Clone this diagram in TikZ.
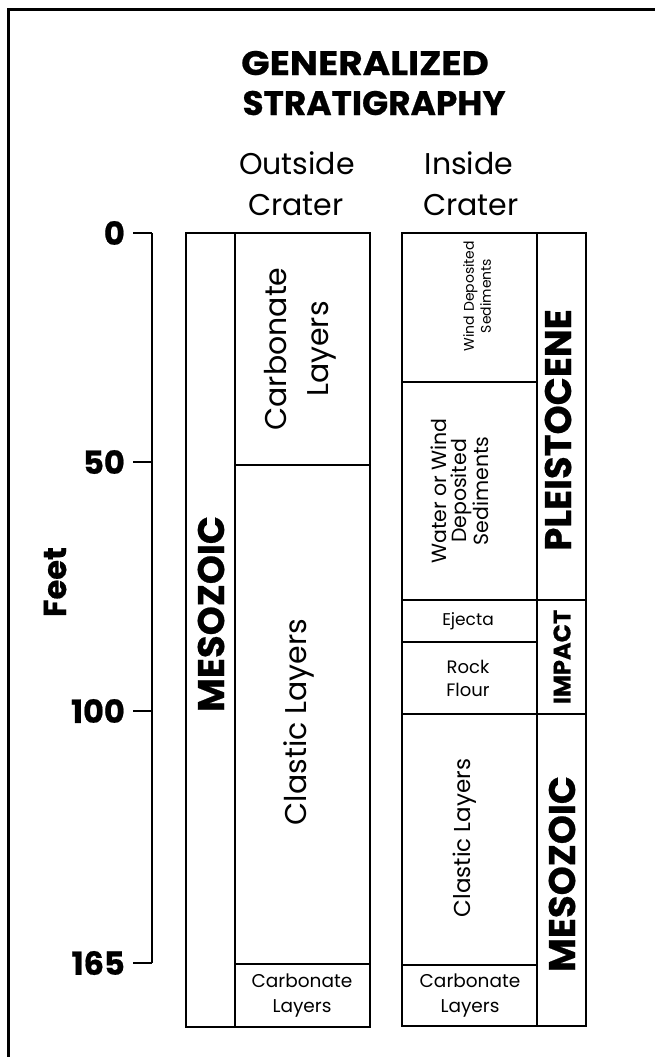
\documentclass[tikz,border=0pt]{standalone}
\usepackage{fontspec}
\setmainfont{Poppins}
\newcommand{\fsz}[2]{\fontsize{#1}{#2}\selectfont}
\newcommand{\heavy}{\bfseries\addfontfeature{FakeBold=0.6}}
\begin{document}
\begin{tikzpicture}[x=1pt,y=-1pt,
    frame/.style={line width=3pt},
    bed/.style={line width=2.6pt},
    axis/.style={line width=1.8pt},
    depth/.style={anchor=east,inner sep=0pt,font=\heavy\fsz{32}{32}},
    head/.style={anchor=base,inner sep=0pt,font=\fsz{30}{30}},
    ttl/.style={anchor=base,inner sep=0pt,font=\heavy\fsz{34}{34}},
    era/.style={rotate=90,inner sep=0pt,font=\heavy\fsz{37}{37}},
    unit/.style={rotate=90,inner sep=0pt,align=center}]

    \useasboundingbox (0,0) rectangle (654,1057);

    % outer frame, open to the right and bottom
    \draw[frame] (660,10) -- (8,10) -- (8,1062);

    % title and column heads
    \node[ttl] (title1) at (365,75) {\scalebox{1.1}[1]{GENERALIZED}};
    \node[ttl] (title2) at (374,115) {\scalebox{1.01}[1]{STRATIGRAPHY}};
    \node[head] (outA) at (297,174) {Outside};
    \node[head] (outB) at (296,215) {Crater};
    \node[head] (inA) at (469,174) {Inside};
    \node[head] (inB) at (471,215) {Crater};

    % depth scale
    \draw[axis] (152,233) -- (152,963);
    \foreach \y/\d in {233/0,462/50,711/100,963/165} {
        \draw[axis] (133,\y) -- (152,\y);
        \node[depth] (d\d) at (125,\y) {\d};
    }
    \node[rotate=90,inner sep=0pt,font=\heavy\fsz{32}{32}] (feet) at (55,582) {Feet};

    % outside crater column
    \draw[bed] (186,233) rectangle (370,1027);
    \draw[bed] (235,233) -- (235,1027);
    \foreach \y in {465,964}
        \draw[bed] (235,\y) -- (370,\y);

    \node[era] (mesoOut) at (211,614) {MESOZOIC};
    \node[unit,font=\fsz{30}{42}] (carbOut) at (300,349) {Carbonate\\Layers};
    \node[unit,font=\fsz{30}{36}] (clasOut) at (299,722) {Clastic Layers};
    \node[align=center,inner sep=0pt,font=\fsz{18.5}{25}] (carbOutB) at (302,996) {Carbonate\\Layers};

    % inside crater column
    \draw[bed] (402,233) rectangle (586,1026);
    \draw[bed] (537,233) -- (537,1026);
    \foreach \y in {382,642,965}
        \draw[bed] (402,\y) -- (537,\y);
    \foreach \y in {600,714}
        \draw[bed] (402,\y) -- (586,\y);

    \node[unit,font=\fsz{14}{17}] (wind) at (477,296) {Wind Deposited\\Sediments};
    \node[unit,font=\fsz{20.5}{20}] (water) at (460,491) {Water or Wind\\Deposited\\Sediments};
    \node[inner sep=0pt,font=\fsz{17}{20}] (ejecta) at (468,621) {Ejecta};
    \node[align=center,inner sep=0pt,font=\fsz{18}{23}] (rock) at (468,678) {Rock\\Flour};
    \node[unit,font=\fsz{23}{26}] (clasIn) at (465,838) {Clastic Layers};
    \node[align=center,inner sep=0pt,font=\fsz{18.5}{25}] (carbInB) at (470,996) {Carbonate\\Layers};

    \node[era] (pleist) at (558,430) {PLEISTOCENE};
    \node[era,font=\heavy\fsz{24}{24}] (impact) at (562,657) {IMPACT};
    \node[era] (mesoIn) at (562,874) {MESOZOIC};
\end{tikzpicture}
\end{document}
